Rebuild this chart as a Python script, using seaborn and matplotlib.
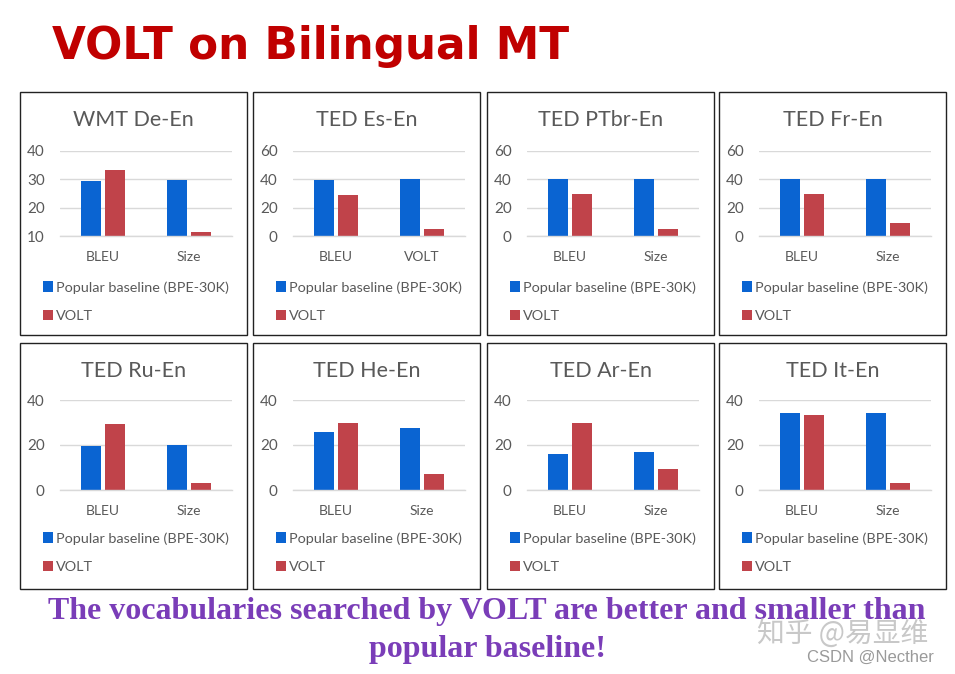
import matplotlib
matplotlib.use("Agg")
import matplotlib.pyplot as plt
from matplotlib.patches import Rectangle
import seaborn as sns
import pandas as pd

sns.set_theme(style="white")
plt.rcParams['font.family'] = ['Lato', 'DejaVu Sans']

titles = ["WMT De-En", "TED Es-En", "TED PTbr-En", "TED Fr-En",
          "TED Ru-En", "TED He-En", "TED Ar-En", "TED It-En"]
categories = [["BLEU", "Size"], ["BLEU", "VOLT"], ["BLEU", "Size"], ["BLEU", "Size"],
              ["BLEU", "Size"], ["BLEU", "Size"], ["BLEU", "Size"], ["BLEU", "Size"]]
baseline = [[29.3, 29.8], [39.5, 40.0], [40.0, 40.5], [40.0, 40.5],
            [19.6, 20.1], [26.0, 27.7], [16.0, 16.8], [34.3, 34.3]]
volt = [[33.3, 11.5], [29.0, 5.0], [30.0, 5.0], [29.8, 9.3],
        [29.5, 3.2], [29.6, 7.2], [29.8, 9.3], [33.3, 3.0]]
yticks = [[10, 20, 30, 40], [0, 20, 40, 60], [0, 20, 40, 60], [0, 20, 40, 60],
          [0, 20, 40], [0, 20, 40], [0, 20, 40], [0, 20, 40]]
series_names = ["Popular baseline (BPE-30K)", "VOLT"]

BLUE = "#0A64D2"
RED = "#C0434A"
GRAY_TXT = "#595959"
GRID = "#D9D9D9"

W, H = 955, 674
fig = plt.figure(figsize=(W / 100, H / 100), dpi=100)
fig.patch.set_facecolor("white")

def fx(x):
    return x / W

def fy(y):
    return 1 - y / H

panel_lefts = [20, 253, 487, 719]
panel_tops = [92, 343]
panel_heights = [243, 246]
panel_w = 227
ax_tops = [151, 400]
ax_bottoms = [236, 490]

for i, title in enumerate(titles):
    r, c = divmod(i, 4)
    pl = panel_lefts[c]
    pt = panel_tops[r]
    ph = panel_heights[r]
    fig.patches.append(Rectangle((fx(pl), fy(pt + ph)), panel_w / W, ph / H,
                                 transform=fig.transFigure, fill=False,
                                 edgecolor="#222222", linewidth=1.0))
    axl = pl + 40
    axw = 172
    at, ab = ax_tops[r], ax_bottoms[r]
    ax = fig.add_axes([fx(axl), fy(ab), axw / W, (ab - at) / H])
    df = pd.DataFrame({
        "cat": categories[i] * 2,
        "value": baseline[i] + volt[i],
        "series": [series_names[0]] * 2 + [series_names[1]] * 2,
    })
    sns.barplot(data=df, x="cat", y="value", hue="series",
                palette=[BLUE, RED], width=0.55, gap=0.15, ax=ax,
                saturation=1, linewidth=0)
    ax.set_ylim(yticks[i][0], yticks[i][-1])
    ax.set_yticks(yticks[i])
    ax.set_xlim(-0.5, 1.5)
    ax.set_xlabel("")
    ax.set_ylabel("")
    for s in ["top", "right", "left"]:
        ax.spines[s].set_visible(False)
    ax.spines["bottom"].set_color(GRID)
    ax.spines["bottom"].set_linewidth(1)
    ax.yaxis.grid(True, color=GRID, linewidth=1)
    ax.set_axisbelow(True)
    ax.tick_params(axis="both", length=0, labelsize=10, labelcolor=GRAY_TXT)
    ax.tick_params(axis="y", pad=11, labelsize=11)
    ax.tick_params(axis="x", pad=11)
    ax.set_facecolor("none")
    handles, labels = ax.get_legend_handles_labels()
    if ax.get_legend() is not None:
        ax.get_legend().remove()
    leg = fig.legend(handles, labels, loc="upper left",
                     bbox_to_anchor=(fx(pl + 23), fy(pt + 189)),
                     frameon=False, fontsize=10.4, handlelength=0.7,
                     handleheight=0.7, handletextpad=0.2, labelspacing=1.12,
                     borderpad=0, borderaxespad=0)
    for t in leg.get_texts():
        t.set_color(GRAY_TXT)
    fig.text(fx(pl + panel_w / 2), fy(pt + 28), title, ha="center", va="center",
             fontsize=15.5, color=GRAY_TXT)

fig.text(fx(52), fy(47), "VOLT on Bilingual MT", ha="left", va="center",
         fontsize=31.5, fontweight="bold", color="#C00000",
         family=["DejaVu Sans"])

fig.text(fx(487), fy(612), "The vocabularies searched by VOLT are better and smaller than",
         ha="center", va="center", fontsize=23, fontweight="bold",
         color="#7A3DB8", family=["Liberation Serif"])
fig.text(fx(487), fy(650), "popular baseline!",
         ha="center", va="center", fontsize=23, fontweight="bold",
         color="#7A3DB8", family=["Liberation Serif"])

fig.text(fx(843), fy(634), "知乎 @易显维", ha="center", va="center",
         fontsize=20, color="#C8C8C8", family=["Noto Sans CJK SC", "DejaVu Sans"])
fig.text(fx(870), fy(657), "CSDN @Necther", ha="center", va="center",
         fontsize=12, color="#9A9A9A", family=["Liberation Sans"])

fig.savefig("out.png", dpi=100, facecolor="white")
